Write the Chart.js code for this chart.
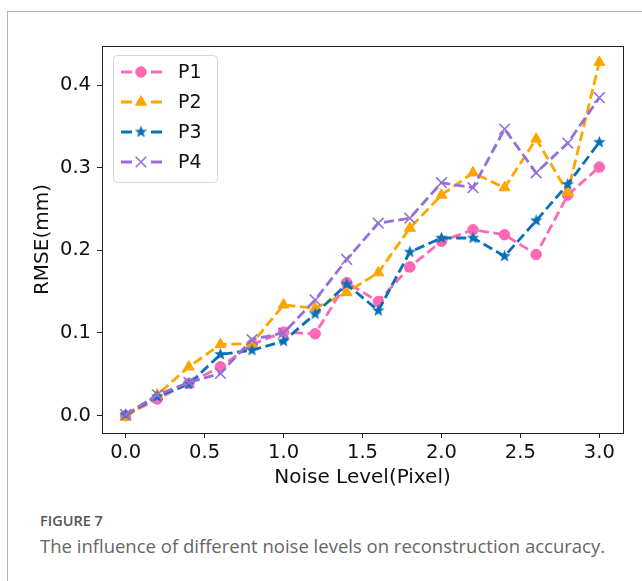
<!DOCTYPE html>
<html>
<head>
<meta charset="utf-8">
<script src="https://cdn.jsdelivr.net/npm/chart.js@4"></script>
<style>
  html, body { margin: 0; padding: 0; background: #fff; }
  body { width: 642px; height: 581px; position: relative; overflow: hidden; }
  .frame { position: absolute; left: 7px; top: 11px; right: -2px; bottom: -2px; border-left: 1px solid #b5b5b5; border-top: 1px solid #b5b5b5; }
  #wrap { position: absolute; left: 0; top: 0; width: 642px; height: 500px; }
  .fig { position: absolute; left: 40px; top: 511px; font-family: "Open Sans", sans-serif; font-size: 14.5px; font-weight: 600; color: #555; }
  .cap { position: absolute; left: 40px; top: 533px; font-family: "Open Sans", sans-serif; font-size: 18.5px; color: #666; white-space: nowrap; }
</style>
</head>
<body>
<div class="frame"></div>
<div id="wrap"><canvas id="rmseChart" width="642" height="500"></canvas></div>
<div class="fig">FIGURE 7</div>
<div class="cap">The influence of different noise levels on reconstruction accuracy.</div>
<script>
// Niveles de ruido (eje x)
const nivelesRuido = [0, 0.2, 0.4, 0.6, 0.8, 1.0, 1.2, 1.4, 1.6, 1.8, 2.0, 2.2, 2.4, 2.6, 2.8, 3.0];

// RMSE de cada serie
const rmseP1 = [0.000, 0.020, 0.039, 0.059, 0.086, 0.101, 0.099, 0.161, 0.138, 0.180, 0.211, 0.225, 0.219, 0.195, 0.267, 0.301];
const rmseP2 = [-0.002, 0.025, 0.059, 0.086, 0.087, 0.134, 0.130, 0.149, 0.173, 0.227, 0.267, 0.294, 0.276, 0.335, 0.270, 0.428];
const rmseP3 = [0.001, 0.023, 0.038, 0.074, 0.079, 0.090, 0.123, 0.159, 0.127, 0.198, 0.215, 0.215, 0.193, 0.236, 0.280, 0.331];
const rmseP4 = [0.001, 0.025, 0.040, 0.051, 0.092, 0.100, 0.140, 0.189, 0.233, 0.239, 0.282, 0.276, 0.347, 0.294, 0.330, 0.385];

const nombresSeries = ['P1', 'P2', 'P3', 'P4'];

// Marcas de los ejes
const ticksX = [0, 0.5, 1.0, 1.5, 2.0, 2.5, 3.0];
const ticksY = [0, 0.1, 0.2, 0.3, 0.4];

const FUENTE = '"DejaVu Sans", sans-serif';

// Estrella rellena (como el marcador '*' de matplotlib)
function crearEstrella(color) {
    const c = document.createElement('canvas');
    c.width = 15; c.height = 15;
    const g = c.getContext('2d');
    g.beginPath();
    for (let i = 0; i < 10; i++) {
        const r = i % 2 === 0 ? 6.6 : 2.8;
        const a = -Math.PI / 2 + i * Math.PI / 5;
        const px = 7.5 + r * Math.cos(a), py = 7.5 + r * Math.sin(a);
        if (i === 0) g.moveTo(px, py); else g.lineTo(px, py);
    }
    g.closePath();
    g.fillStyle = color;
    g.fill();
    return c;
}

const colores = ['#ff69b4', '#ffa500', '#0a70b5', '#9370db'];
const series = [rmseP1, rmseP2, rmseP3, rmseP4];
const estilos = ['circle', 'triangle', crearEstrella(colores[2]), 'crossRot'];
const radios = [5.3, 6.3, 7, 7.5];

const datasets = series.map((valores, i) => ({
    label: nombresSeries[i],
    data: nivelesRuido.map((x, j) => ({ x: x, y: valores[j] })),
    borderColor: colores[i],
    backgroundColor: colores[i],
    borderWidth: 2.8,
    borderDash: [10, 4.5],
    pointStyle: estilos[i],
    pointRadius: radios[i],
    pointBorderWidth: i === 3 ? 1.6 : 1,
    pointBorderColor: colores[i],
    pointBackgroundColor: colores[i],
    tension: 0,
    fill: false,
    order: 3 - i
}));

// Recuadro del área de trazado y leyenda
const marcoYLeyenda = {
    id: 'marcoYLeyenda',
    afterDraw(chart) {
        const ctx = chart.ctx;
        const a = chart.chartArea;
        ctx.save();
        ctx.strokeStyle = '#222';
        ctx.lineWidth = 1;
        ctx.strokeRect(Math.round(a.left) + 0.5, Math.round(a.top) + 0.5, Math.round(a.right - a.left), Math.round(a.bottom - a.top));

        // leyenda
        const bx = a.left + 11, by = a.top + 9, bw = 104, bh = 127;
        ctx.beginPath();
        ctx.roundRect(bx + 0.5, by + 0.5, bw, bh, 4);
        ctx.fillStyle = 'rgba(255,255,255,0.85)';
        ctx.fill();
        ctx.strokeStyle = '#d6d6d6';
        ctx.stroke();

        chart.data.datasets.forEach((ds, i) => {
            const y = by + 17 + i * 30;
            ctx.save();
            ctx.strokeStyle = ds.borderColor;
            ctx.lineWidth = 2.8;
            ctx.setLineDash([11, 19]);
            ctx.beginPath();
            ctx.moveTo(bx + 8, y);
            ctx.lineTo(bx + 49, y);
            ctx.stroke();
            ctx.restore();

            ctx.save();
            ctx.fillStyle = ds.borderColor;
            ctx.strokeStyle = ds.borderColor;
            ctx.lineWidth = ds.pointBorderWidth;
            Chart.helpers.drawPoint(ctx, {
                pointStyle: ds.pointStyle,
                radius: ds.pointRadius,
                rotation: 0,
                borderWidth: ds.pointBorderWidth
            }, bx + 28, y);
            ctx.restore();

            ctx.fillStyle = '#111';
            ctx.font = '19px ' + FUENTE;
            ctx.textBaseline = 'middle';
            ctx.fillText(ds.label, bx + 65, y + 1);
        });
        ctx.restore();
    }
};

new Chart(document.getElementById('rmseChart').getContext('2d'), {
    type: 'line',
    data: { datasets: datasets },
    options: {
        responsive: false,
        animation: false,
        layout: { padding: { top: 46, right: 19, left: 0, bottom: 7 } },
        plugins: {
            legend: { display: false },
            tooltip: { enabled: false }
        },
        scales: {
            x: {
                type: 'linear',
                min: -0.15,
                max: 3.15,
                afterBuildTicks: s => { s.ticks = ticksX.map(v => ({ value: v })); },
                afterFit: s => { s.height = 60; },
                border: { display: true, color: '#222', width: 1 },
                grid: { drawOnChartArea: false, drawTicks: true, tickLength: 5, color: '#222' },
                ticks: {
                    color: '#111',
                    padding: 3,
                    maxRotation: 0,
                    font: { family: FUENTE, size: 19.5 },
                    callback: v => Number(v).toFixed(1)
                },
                title: {
                    display: true,
                    text: 'Noise Level(Pixel)',
                    color: '#111',
                    font: { family: FUENTE, size: 20 },
                    padding: { top: 0, bottom: 3 }
                }
            },
            y: {
                type: 'linear',
                min: -0.0212,
                max: 0.4476,
                afterBuildTicks: s => { s.ticks = ticksY.map(v => ({ value: v })); },
                afterFit: s => { s.width = 102; },
                border: { display: true, color: '#222', width: 1 },
                grid: { drawOnChartArea: false, drawTicks: true, tickLength: 5, color: '#222' },
                ticks: {
                    color: '#111',
                    padding: 6,
                    font: { family: FUENTE, size: 19.5 },
                    callback: v => Number(v).toFixed(1)
                },
                title: {
                    display: true,
                    text: 'RMSE(mm)',
                    color: '#111',
                    font: { family: FUENTE, size: 20 },
                    padding: { top: 31, bottom: 0 }
                }
            }
        }
    },
    plugins: [marcoYLeyenda]
});
</script>
</body>
</html>
